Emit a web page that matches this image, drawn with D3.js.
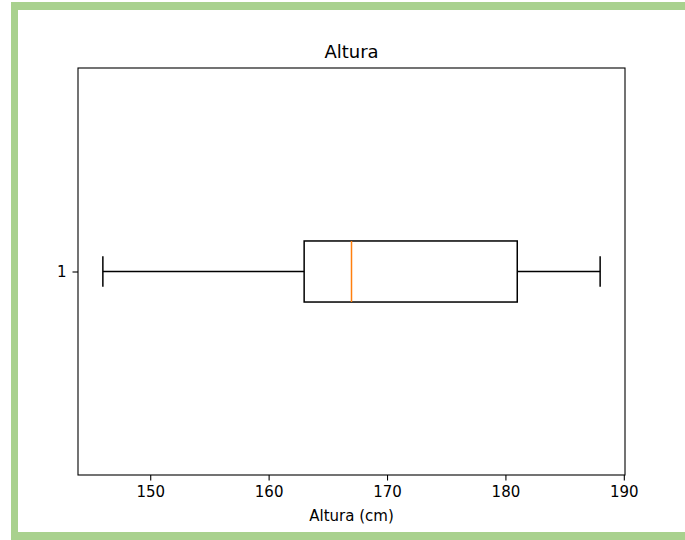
<!DOCTYPE html>
<html>
<head>
	<meta charset="utf-8">
	<title>Altura</title>
	<script src="https://cdn.jsdelivr.net/npm/d3@7"></script>
</head>
<style type="text/css">
	body { margin: 0; background: #fff; }
	svg { display: block; font-family: "DejaVu Sans", sans-serif; }
</style>
<body>
</body>
</html>
<script type="text/javascript">
	var width = 685;
	var height = 540;

	// boxplot summary (cm)
	var categories = ["1"];
	var whiskerLow = [146];
	var q1 = [163];
	var median = [167];
	var q3 = [181];
	var whiskerHigh = [188];
	var xTicks = [150, 160, 170, 180, 190];

	var margin = {left: 78, right: 60, top: 68, bottom: 65};
	var svg = d3.select("body").append("svg").attr("width", width).attr("height", height);

	// green frame round the picture
	svg.append("rect").attr("x", 11).attr("y", 2).attr("width", 700).attr("height", 8).attr("fill", "#a9d18e");
	svg.append("rect").attr("x", 11).attr("y", 2).attr("width", 7).attr("height", 540).attr("fill", "#a9d18e");
	svg.append("rect").attr("x", 11).attr("y", 532).attr("width", 700).attr("height", 8).attr("fill", "#a9d18e");

	var lo = d3.min(whiskerLow), hi = d3.max(whiskerHigh);
	var pad = (hi - lo) * 0.05;
	var x = d3.scaleLinear().domain([lo - pad, hi + pad]).range([margin.left, width - margin.right]);
	var y = d3.scaleLinear().domain([0.5, categories.length + 0.5]).range([height - margin.bottom, margin.top]);

	var boxW = 0.15;
	var g = svg.append("g");
	categories.forEach(function(c, i) {
		var p = i + 1;
		var yt = y(p + boxW / 2), yb = y(p - boxW / 2);
		var ct = y(p + boxW / 4), cb = y(p - boxW / 4);
		// whiskers
		g.append("line").attr("x1", x(whiskerLow[i])).attr("x2", x(q1[i])).attr("y1", y(p)).attr("y2", y(p))
			.attr("stroke", "#000").attr("stroke-width", 1.5);
		g.append("line").attr("x1", x(q3[i])).attr("x2", x(whiskerHigh[i])).attr("y1", y(p)).attr("y2", y(p))
			.attr("stroke", "#000").attr("stroke-width", 1.5);
		// caps
		g.append("line").attr("x1", x(whiskerLow[i])).attr("x2", x(whiskerLow[i])).attr("y1", ct).attr("y2", cb)
			.attr("stroke", "#000").attr("stroke-width", 1.5);
		g.append("line").attr("x1", x(whiskerHigh[i])).attr("x2", x(whiskerHigh[i])).attr("y1", ct).attr("y2", cb)
			.attr("stroke", "#000").attr("stroke-width", 1.5);
		// box
		g.append("rect").attr("x", x(q1[i])).attr("y", yt).attr("width", x(q3[i]) - x(q1[i])).attr("height", yb - yt)
			.attr("fill", "none").attr("stroke", "#000").attr("stroke-width", 1.5);
		// median
		g.append("line").attr("x1", x(median[i])).attr("x2", x(median[i])).attr("y1", yt).attr("y2", yb)
			.attr("stroke", "#ff7f0e").attr("stroke-width", 1.5);
	});

	var xAxis = svg.append("g").attr("transform", "translate(0," + (height - margin.bottom) + ")")
		.call(d3.axisBottom(x).tickValues(xTicks).tickSize(5.5).tickPadding(6));
	var yAxis = svg.append("g").attr("transform", "translate(" + margin.left + ",0)")
		.call(d3.axisLeft(y).tickValues(d3.range(1, categories.length + 1)).tickFormat(function(d){ return categories[d - 1]; }).tickSize(5.5).tickPadding(6));
	[xAxis, yAxis].forEach(function(a) {
		a.select(".domain").remove();
		a.selectAll("line").attr("stroke", "#000").attr("stroke-width", 1.1);
		a.selectAll("text").attr("font-size", "15px").attr("fill", "#000").attr("font-family", "DejaVu Sans");
	});

	// axes frame
	svg.append("rect").attr("x", margin.left).attr("y", margin.top)
		.attr("width", width - margin.right - margin.left).attr("height", height - margin.bottom - margin.top)
		.attr("fill", "none").attr("stroke", "#000").attr("stroke-width", 1.1);

	svg.append("text").attr("x", (margin.left + width - margin.right) / 2).attr("y", 58)
		.attr("text-anchor", "middle").attr("font-size", "18px").text("Altura");
	svg.append("text").attr("x", (margin.left + width - margin.right) / 2).attr("y", 521)
		.attr("text-anchor", "middle").attr("font-size", "15px").text("Altura (cm)");
</script>
